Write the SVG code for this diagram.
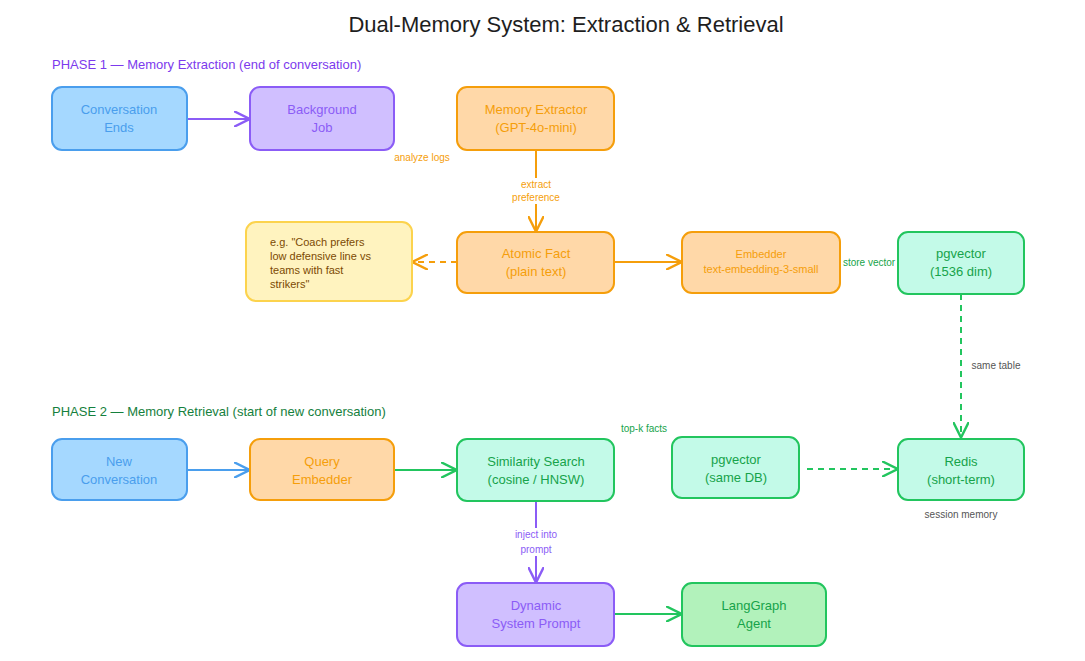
<svg xmlns="http://www.w3.org/2000/svg" width="1085" height="661" viewBox="0 0 1085 661">
<style>
text{font-family:"Liberation Sans",Arial,sans-serif;text-anchor:middle}
.n{stroke-width:2}
.blue{fill:#a5d8ff;stroke:#4a9eed}.tblue{fill:#4a9eed;font-size:13px}
.pur{fill:#d0bfff;stroke:#8b5cf6}.tpur{fill:#8b5cf6;font-size:13px}
.org{fill:#ffd8a8;stroke:#f59e0b}.torg{fill:#f59e0b;font-size:13px}
.mint{fill:#c3fae8;stroke:#22c55e}.tgrn{fill:#16a34a;font-size:13px}
.grn{fill:#b2f2bb;stroke:#22c55e}
.yel{fill:#fff3bf;stroke:#fcd34d}
.lbl{font-size:10px}
.c{fill:none;stroke-width:2}
</style>
<defs>
<marker id="ab" viewBox="0 0 10 10" refX="9" refY="5" markerWidth="8" markerHeight="8" orient="auto"><path d="M0 0L10 5L0 10" fill="none" stroke="#4a9eed" stroke-width="1.5"/></marker>
<marker id="ap" viewBox="0 0 10 10" refX="9" refY="5" markerWidth="8" markerHeight="8" orient="auto"><path d="M0 0L10 5L0 10" fill="none" stroke="#8b5cf6" stroke-width="1.5"/></marker>
<marker id="ao" viewBox="0 0 10 10" refX="9" refY="5" markerWidth="8" markerHeight="8" orient="auto"><path d="M0 0L10 5L0 10" fill="none" stroke="#f59e0b" stroke-width="1.5"/></marker>
<marker id="ag" viewBox="0 0 10 10" refX="9" refY="5" markerWidth="8" markerHeight="8" orient="auto"><path d="M0 0L10 5L0 10" fill="none" stroke="#22c55e" stroke-width="1.5"/></marker>
</defs>
<rect width="1085" height="661" fill="#fff"/>
<text x="566" y="32" style="font-size:22px" fill="#1e1e1e">Dual-Memory System: Extraction &amp; Retrieval</text>
<text x="52" y="69" style="text-anchor:start;font-size:13px" fill="#7c3aed">PHASE 1 — Memory Extraction (end of conversation)</text>
<text x="52" y="416" style="text-anchor:start;font-size:13px" fill="#15803d">PHASE 2 — Memory Retrieval (start of new conversation)</text>

<g id="connectors">
<path class="c" d="M187 119H248" stroke="#8b5cf6" marker-end="url(#ap)"/>
<path class="c" d="M536 150V230" stroke="#f59e0b" marker-end="url(#ao)"/>
<path class="c" d="M457 262H414" stroke="#f59e0b" stroke-dasharray="6 5" marker-end="url(#ao)"/>
<path class="c" d="M614 262H680" stroke="#f59e0b" marker-end="url(#ao)"/>
<path class="c" d="M961 294V436" stroke="#22c55e" stroke-dasharray="6 5" marker-end="url(#ag)"/>
<path class="c" d="M187 470H248" stroke="#4a9eed" marker-end="url(#ab)"/>
<path class="c" d="M394 470H455" stroke="#22c55e" marker-end="url(#ag)"/>
<path class="c" d="M807 469H896" stroke="#22c55e" stroke-dasharray="6 5" marker-end="url(#ag)"/>
<path class="c" d="M536 501V581" stroke="#8b5cf6" marker-end="url(#ap)"/>
<path class="c" d="M614 614H680" stroke="#22c55e" marker-end="url(#ag)"/>
<text x="422" y="161" class="lbl" fill="#f59e0b">analyze logs</text>
<rect x="505" y="178" width="62" height="26" fill="#fff"/>
<text x="536" y="188" class="lbl" fill="#f59e0b">extract</text>
<text x="536" y="201" class="lbl" fill="#f59e0b">preference</text>
<text x="869" y="266" class="lbl" fill="#16a34a">store vector</text>
<rect x="966" y="358" width="60" height="14" fill="#fff"/>
<text x="996" y="369" class="lbl" fill="#555">same table</text>
<text x="644" y="432" class="lbl" fill="#16a34a">top-k facts</text>
<text x="961" y="518" class="lbl" fill="#555">session memory</text>
<rect x="503" y="528" width="66" height="28" fill="#fff"/>
<text x="536" y="538" class="lbl" fill="#8b5cf6">inject into</text>
<text x="536" y="553" class="lbl" fill="#8b5cf6">prompt</text>
</g>

<g id="conv-ends"><rect class="n blue" x="52" y="87" width="135" height="63" rx="10"/><text class="tblue" x="119" y="114">Conversation</text><text class="tblue" x="119" y="132">Ends</text></g>
<g id="bg-job"><rect class="n pur" x="250" y="87" width="144" height="63" rx="10"/><text class="tpur" x="322" y="114">Background</text><text class="tpur" x="322" y="132">Job</text></g>
<g id="extractor"><rect class="n org" x="457" y="87" width="157" height="63" rx="10"/><text class="torg" x="536" y="114">Memory Extractor</text><text class="torg" x="536" y="132">(GPT-4o-mini)</text></g>
<g id="note"><rect class="n yel" x="246" y="222" width="166" height="79" rx="10" stroke-width="1.5"/>
<text x="270" y="246" style="text-anchor:start;font-size:11px" fill="#7c4a03">e.g. "Coach prefers</text>
<text x="270" y="260" style="text-anchor:start;font-size:11px" fill="#7c4a03">low defensive line vs</text>
<text x="270" y="274" style="text-anchor:start;font-size:11px" fill="#7c4a03">teams with fast</text>
<text x="270" y="288" style="text-anchor:start;font-size:11px" fill="#7c4a03">strikers"</text></g>
<g id="atomic"><rect class="n org" x="457" y="232" width="157" height="61" rx="10"/><text class="torg" x="536" y="258">Atomic Fact</text><text class="torg" x="536" y="276">(plain text)</text></g>
<g id="embedder"><rect class="n org" x="682" y="232" width="158" height="61" rx="10"/><text class="torg" x="761" y="258" style="font-size:11px">Embedder</text><text class="torg" x="761" y="273" style="font-size:11px">text-embedding-3-small</text></g>
<g id="pgvector1"><rect class="n mint" x="898" y="232" width="126" height="62" rx="10"/><text class="tgrn" x="961" y="258">pgvector</text><text class="tgrn" x="961" y="276">(1536 dim)</text></g>
<g id="new-conv"><rect class="n blue" x="52" y="439" width="135" height="61" rx="10"/><text class="tblue" x="119" y="466">New</text><text class="tblue" x="119" y="484">Conversation</text></g>
<g id="query-emb"><rect class="n org" x="250" y="439" width="144" height="61" rx="10"/><text class="torg" x="322" y="466">Query</text><text class="torg" x="322" y="484">Embedder</text></g>
<g id="similarity"><rect class="n mint" x="457" y="439" width="157" height="62" rx="10"/><text class="tgrn" x="536" y="466">Similarity Search</text><text class="tgrn" x="536" y="484">(cosine / HNSW)</text></g>
<g id="pgvector2"><rect class="n mint" x="672" y="437" width="127" height="61" rx="10"/><text class="tgrn" x="736" y="464">pgvector</text><text class="tgrn" x="736" y="482">(same DB)</text></g>
<g id="redis"><rect class="n mint" x="898" y="439" width="126" height="61" rx="10"/><text class="tgrn" x="961" y="466">Redis</text><text class="tgrn" x="961" y="484">(short-term)</text></g>
<g id="dynamic"><rect class="n pur" x="457" y="583" width="157" height="63" rx="10"/><text class="tpur" x="536" y="610">Dynamic</text><text class="tpur" x="536" y="628">System Prompt</text></g>
<g id="langgraph"><rect class="n grn" x="682" y="583" width="144" height="63" rx="10"/><text class="tgrn" x="754" y="610">LangGraph</text><text class="tgrn" x="754" y="628">Agent</text></g>
</svg>
